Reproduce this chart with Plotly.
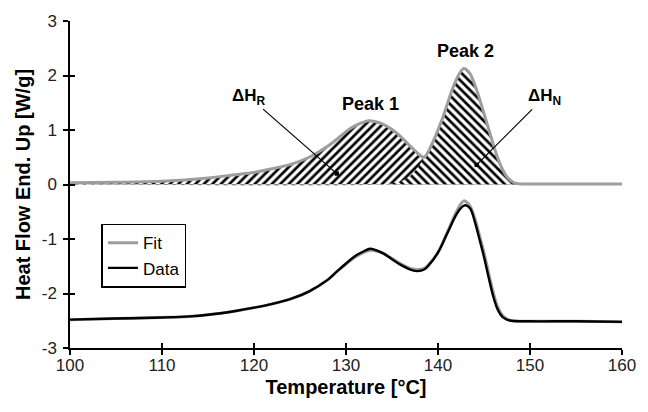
import numpy as np
import plotly.graph_objects as go

# ---- upper curves: deconvoluted peaks (W/g) ----
p1_t = [100, 105, 110, 115, 118, 120, 122, 124, 126, 128, 129, 130, 131, 132, 132.5, 133,
        134, 135, 136, 137, 138, 139, 140, 141, 142, 143, 144, 150, 160]
p1_v = [0.03, 0.04, 0.06, 0.12, 0.18, 0.22, 0.29, 0.37, 0.5, 0.7, 0.83, 0.97, 1.08, 1.15, 1.17, 1.16,
        1.11, 1.01, 0.87, 0.7, 0.54, 0.38, 0.24, 0.13, 0.06, 0.02, 0.01, 0.01, 0.01]

p2_t = [100, 134, 135, 136, 137, 137.5, 138, 138.5, 139, 139.5, 140, 140.5, 141, 141.5, 142, 142.5,
        142.8, 143, 143.5, 144, 144.5, 145, 145.5, 146, 146.5, 147, 147.5, 148, 148.5, 149, 150, 160]
p2_v = [0, 0, 0.02, 0.06, 0.16, 0.25, 0.36, 0.5, 0.62, 0.8, 1.0, 1.22, 1.47, 1.72, 1.93, 2.08,
        2.13, 2.12, 2.03, 1.83, 1.58, 1.3, 1.02, 0.74, 0.48, 0.28, 0.14, 0.06, 0.02, 0.01, 0.01, 0.01]

# ---- lower curves: measured data and fit (W/g) ----
lo_t = [100, 105, 110, 113, 115, 118, 120, 122, 124, 126, 128, 129, 130, 131, 132, 132.6, 133,
        134, 135, 136, 137, 137.8, 138.5, 139, 140, 141, 142, 142.5, 142.8, 143, 143.5, 144, 144.5,
        145, 145.5, 146, 146.5, 147, 147.5, 148, 150, 155, 160]
data_v = [-2.48, -2.46, -2.44, -2.42, -2.39, -2.32, -2.26, -2.19, -2.1, -1.96, -1.75, -1.6, -1.45, -1.31,
          -1.22, -1.18, -1.19, -1.26, -1.37, -1.48, -1.56, -1.59, -1.56, -1.48, -1.25, -0.9, -0.55, -0.43,
          -0.39, -0.38, -0.44, -0.68, -1.0, -1.33, -1.7, -2.05, -2.3, -2.43, -2.48, -2.5, -2.51, -2.51, -2.52]
fit_v = [-2.48, -2.46, -2.44, -2.42, -2.39, -2.32, -2.26, -2.19, -2.1, -1.96, -1.75, -1.6, -1.46, -1.33,
         -1.24, -1.21, -1.21, -1.26, -1.36, -1.46, -1.54, -1.56, -1.54, -1.47, -1.24, -0.88, -0.5, -0.35,
         -0.3, -0.31, -0.4, -0.62, -0.93, -1.25, -1.62, -1.98, -2.25, -2.4, -2.47, -2.5, -2.51, -2.51, -2.52]

x_ticks = [100, 110, 120, 130, 140, 150, 160]
y_ticks = [-3, -2, -1, 0, 1, 2, 3]
y_text = ["-3", "-2", "-1", "0", "1", "2", "3"]

FONT = "Liberation Sans, Arial, sans-serif"
GRAY = "#9d9d9d"

fig = go.Figure()

# hatched peak areas
fig.add_trace(go.Scatter(x=p1_t, y=p1_v, mode="lines", line=dict(width=0, shape="spline", smoothing=0.8),
                         fill="tozeroy", fillcolor="white",
                         fillpattern=dict(shape="/", fgcolor="#000000", bgcolor="white", fgopacity=1,
                                          size=6, solidity=0.45),
                         showlegend=False, hoverinfo="skip"))
fig.add_trace(go.Scatter(x=p2_t, y=p2_v, mode="lines", line=dict(width=0, shape="spline", smoothing=0.8),
                         fill="tozeroy", fillcolor="white",
                         fillpattern=dict(shape="\\", fgcolor="#000000", bgcolor="white", fgopacity=1,
                                          size=6, solidity=0.45),
                         showlegend=False, hoverinfo="skip"))

# outline of upper fit
all_t = sorted(set(p1_t) | set(p2_t))
outline = np.maximum(np.interp(all_t, p1_t, p1_v), np.interp(all_t, p2_t, p2_v))
fig.add_trace(go.Scatter(x=all_t, y=outline, mode="lines",
                         line=dict(color=GRAY, width=3, shape="spline", smoothing=0.8),
                         showlegend=False, hoverinfo="skip"))

# lower curves
fig.add_trace(go.Scatter(x=lo_t, y=fit_v, mode="lines", name="Fit",
                         line=dict(color=GRAY, width=3, shape="spline", smoothing=1.0)))
fig.add_trace(go.Scatter(x=lo_t, y=data_v, mode="lines", name="Data",
                         line=dict(color="black", width=2.4, shape="spline", smoothing=1.0)))

# empty trace for inner tick axes
fig.add_trace(go.Scatter(x=[], y=[], xaxis="x2", yaxis="y2", showlegend=False))

axis_common = dict(showgrid=False, zeroline=False, linecolor="black", linewidth=1.5,
                   tickcolor="black", tickwidth=1.5, ticklen=5)

fig.update_layout(
    width=648, height=412,
    margin=dict(l=70, r=18, t=18, b=64),
    paper_bgcolor="white", plot_bgcolor="white",
    font=dict(family=FONT, color="black"),
    xaxis=dict(range=[100, 160], tickvals=x_ticks, ticks="outside", showline=True,
               tickfont=dict(size=17, color="#222"), ticklabelstandoff=-4,
               title=dict(text="<b>Temperature [°C]</b>", font=dict(size=20), standoff=6),
               **axis_common),
    yaxis=dict(range=[-3, 3], tickvals=y_ticks, ticktext=y_text, ticks="outside", showline=True,
               tickfont=dict(size=17, color="#222"), ticklabelstandoff=3,
               title=dict(text="<b>Heat Flow End. Up [W/g]</b>", font=dict(size=20), standoff=6),
               **axis_common),
    xaxis2=dict(range=[100, 160], tickvals=x_ticks, ticks="inside", overlaying="x", anchor="y2",
                side="bottom", showticklabels=False, showline=False, **axis_common),
    yaxis2=dict(range=[-3, 3], tickvals=y_ticks, ticks="inside", overlaying="y", anchor="x2",
                side="left", showticklabels=False, showline=False, **axis_common),
    legend=dict(x=0.057, y=0.38, xanchor="left", yanchor="top", bgcolor="white",
                bordercolor="black", borderwidth=1.5, font=dict(size=17),
                tracegroupgap=0, itemwidth=30),
    showlegend=True,
)

fig.add_annotation(x=132.7, y=1.48, text="<b>Peak 1</b>", showarrow=False, font=dict(size=18))
fig.add_annotation(x=143.0, y=2.45, text="<b>Peak 2</b>", showarrow=False, font=dict(size=18))
fig.add_annotation(x=129.0, y=0.2, ax=-88, ay=-77, text="<b>ΔH<sub>R</sub></b>", showarrow=True,
                   arrowhead=7, arrowsize=0.9, arrowwidth=1.2, arrowcolor="black", font=dict(size=17))
fig.add_annotation(x=144.2, y=0.36, ax=68, ay=-68, text="<b>ΔH<sub>N</sub></b>", showarrow=True,
                   arrowhead=7, arrowsize=0.9, arrowwidth=1.2, arrowcolor="black", font=dict(size=17))

fig.write_html("out.html")
